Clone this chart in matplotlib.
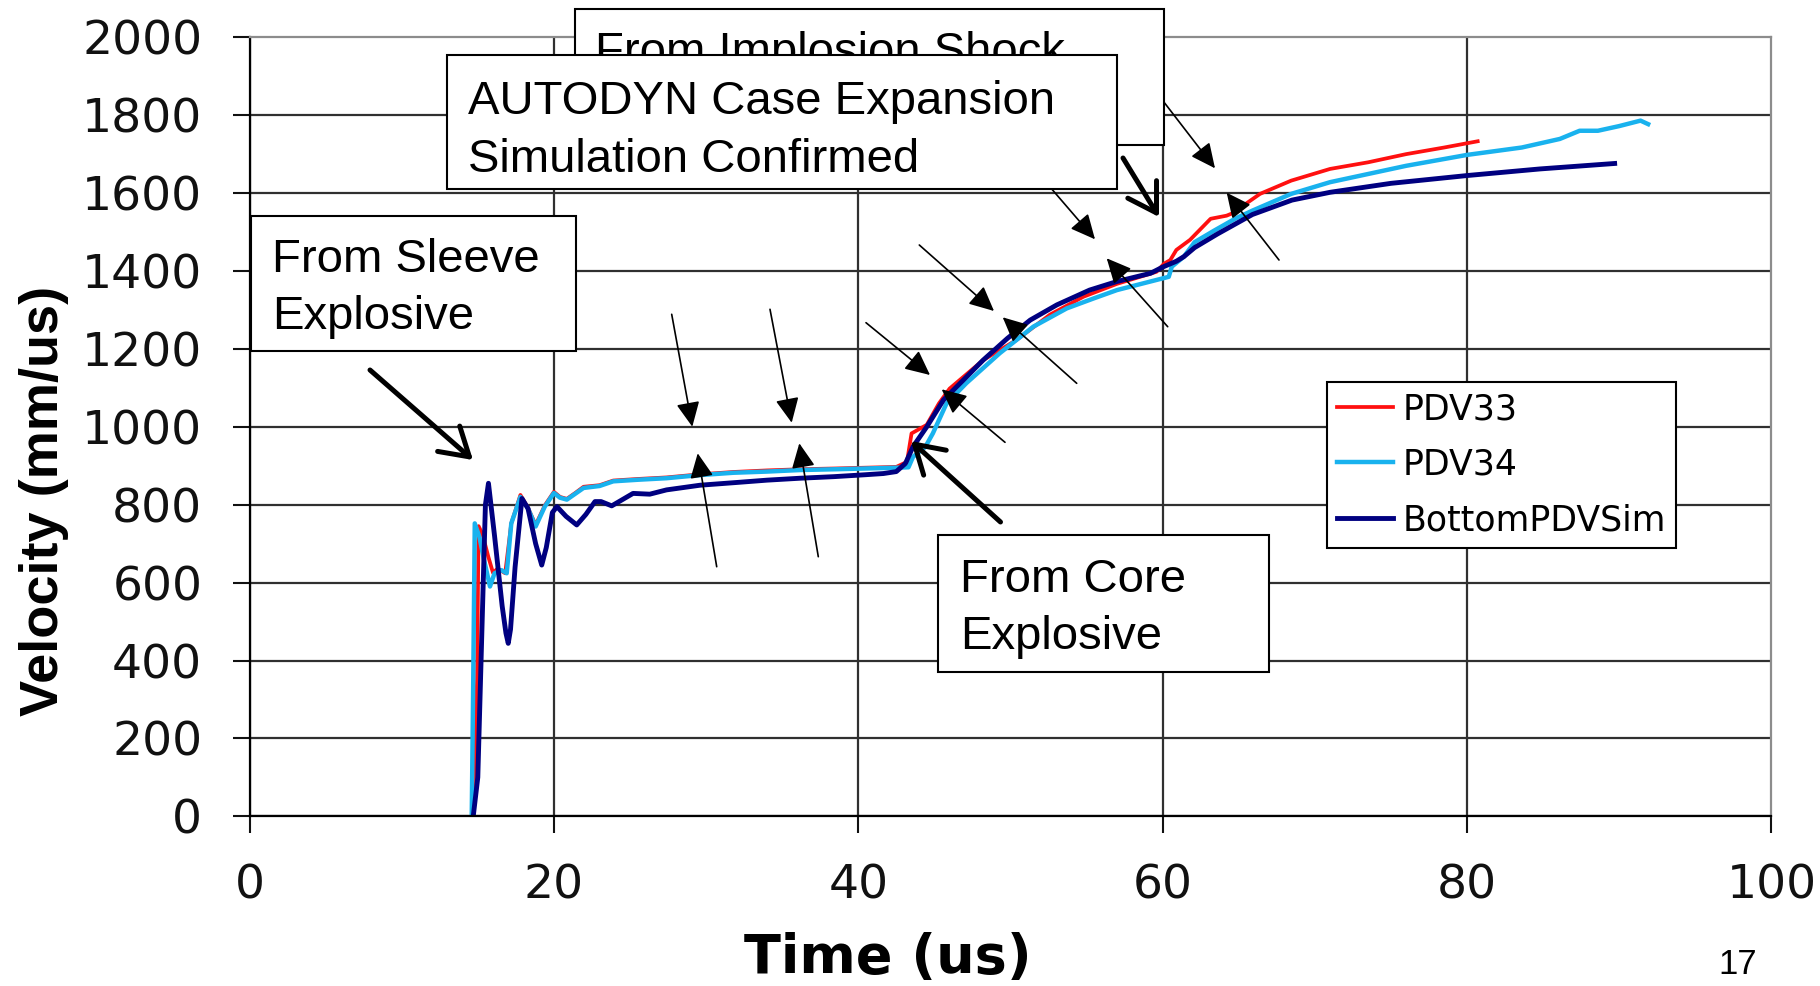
import matplotlib
matplotlib.use('Agg')
from matplotlib import pyplot as plt
from matplotlib.patches import Rectangle, FancyArrowPatch

pdv33_t = [14.7, 14.95, 15.05, 15.3, 15.7, 16.0, 16.3, 16.8, 17.2, 17.8,
           18.3, 18.8, 19.4, 20.0, 20.4, 20.85, 21.4, 21.95, 23.0, 23.9,
           25.5, 27.4, 29.6, 31.8, 34.0, 36.2, 38.5, 40.5, 42.5, 43.2,
           43.5, 44.5, 45.3, 46.0, 48.2, 50.4, 52.6, 54.8, 57.0, 59.6,
           60.1, 60.5, 60.9, 61.8, 63.15, 64.2, 64.7, 65.3, 66.4, 68.45,
           71.0, 73.5, 76.0, 78.5, 80.7]
pdv33_v = [0, 350, 745, 725, 665, 625, 636, 624, 752, 825,
           792, 748, 798, 833, 820, 815, 830, 846, 850, 862,
           866, 870, 878, 884, 888, 891, 893, 895, 897, 910,
           983, 1005, 1060, 1098, 1171, 1223, 1288, 1334, 1367, 1398,
           1419, 1428, 1454, 1480, 1534, 1542, 1550, 1568, 1598, 1632,
           1662, 1679, 1700, 1717, 1733]

pdv34_t = [14.6, 14.7, 14.8, 15.1, 15.4, 15.8, 16.1, 16.55, 16.9, 17.2,
           17.8, 18.3, 18.8, 19.4, 20.0, 20.4, 20.85, 21.4, 21.95, 23.0,
           23.9, 25.5, 27.4, 29.6, 31.8, 34.0, 36.2, 38.5, 40.5, 42.5,
           43.3, 43.6, 44.4, 44.9, 45.8, 47.1, 49.3, 51.5, 53.7, 55.5,
           57.0, 58.5, 59.6, 60.4, 60.6, 61.4, 62.1, 63.4, 64.8, 65.9,
           68.45, 71.0, 73.5, 76.0, 80.0, 83.6, 86.1, 87.4, 88.6, 90.0,
           91.4, 91.9]
pdv34_v = [0, 350, 752, 718, 660, 590, 624, 632, 624, 752,
           820, 790, 744, 795, 830, 818, 813, 828, 843, 848,
           860, 864, 868, 876, 882, 885, 889, 891, 893, 895,
           896, 923, 948, 983, 1060, 1112, 1189, 1257, 1304, 1330,
           1351, 1366, 1377, 1385, 1411, 1437, 1474, 1504, 1535, 1555,
           1598, 1628, 1649, 1670, 1698, 1717, 1739, 1760, 1760, 1772,
           1786, 1777]

sim_t = [14.7, 15.0, 15.25, 15.5, 15.7, 16.1, 16.6, 16.85, 17.0, 17.15,
         17.45, 17.9, 18.3, 18.8, 19.2, 19.5, 19.9, 20.2, 20.8, 21.5,
         22.1, 22.7, 23.1, 23.8, 25.2, 26.3, 27.4, 29.6, 32.0, 34.0,
         36.2, 38.4, 40.5, 41.65, 42.5, 43.1, 43.6, 44.5, 45.6, 46.7,
         48.2, 49.8, 51.3, 53.05, 55.2, 57.0, 59.2, 60.0, 60.9, 61.4,
         62.1, 63.6, 65.9, 68.5, 71.0, 75.0, 80.0, 84.8, 89.7]
sim_v = [0, 100, 450, 800, 855, 720, 540, 470, 444, 480,
         640, 816, 790, 700, 645, 690, 780, 795, 770, 748,
         775, 808, 808, 797, 829, 827, 838, 850, 857, 863,
         868, 872, 877, 880, 885, 906, 949, 1000, 1069, 1112,
         1171, 1227, 1274, 1313, 1351, 1373, 1394, 1410, 1425, 1437,
         1460, 1495, 1545, 1582, 1602, 1625, 1645, 1662, 1676]

x_ticks = [0, 20, 40, 60, 80, 100]
y_ticks = [0, 200, 400, 600, 800, 1000, 1200, 1400, 1600, 1800, 2000]

W, H = 1820, 986


def fxy(px, py):
    # picture pixel (origin top-left) -> figure fraction
    return px / W, 1 - py / H


fig = plt.figure(figsize=(W / 100, H / 100), dpi=100)
ax = fig.add_axes([0.1371, 0.1721, 0.8362, 0.7901])

ax.plot(pdv33_t, pdv33_v, color='#FF1010', lw=2.7, label='PDV33')
ax.plot(pdv34_t, pdv34_v, color='#19B2EE', lw=3.2, label='PDV34')
ax.plot(sim_t, sim_v, color='#000080', lw=3.5, label='BottomPDVSim')

ax.set_xlim(0, 100)
ax.set_ylim(0, 2000)
ax.set_xticks(x_ticks)
ax.set_yticks(y_ticks)
ax.tick_params(direction='out', length=12, width=1.5, pad=22, labelsize=34,
               colors='#111111')
ax.grid(True, color='#303030', lw=1.6)
# the plot-area border takes the place of the last grid lines
ax.xaxis.get_major_ticks()[-1].gridline.set_visible(False)
ax.yaxis.get_major_ticks()[-1].gridline.set_visible(False)
for side in ['left', 'bottom']:
    ax.spines[side].set_color('black')
    ax.spines[side].set_linewidth(1.6)
for side in ['top', 'right']:
    ax.spines[side].set_color('#8C8C8C')
    ax.spines[side].set_linewidth(1.6)

ax.set_xlabel('Time (us)', fontsize=39, fontweight='bold', va='center')
ax.xaxis.set_label_coords(0.4195, -0.1815)
ax.set_ylabel('Velocity (mm/us)', fontsize=39, fontweight='bold',
              family='Liberation Sans', va='center')
ax.yaxis.set_label_coords(-0.1351, 0.4047)

leg = ax.legend(loc='upper left', bbox_to_anchor=fxy(1327, 381.7),
                bbox_transform=fig.transFigure, borderaxespad=0,
                fontsize=25, handlelength=1.6, handletextpad=0.27,
                labelspacing=0.62, borderpad=0.3, fancybox=False,
                framealpha=1)
leg.get_frame().set_edgecolor('black')
leg.get_frame().set_linewidth(1.5)


def text_box(left, top, right, bottom, lines, text_left, baselines, z):
    x0, y1 = fxy(left, top)
    x1, y0 = fxy(right, bottom)
    fig.add_artist(Rectangle((x0, y0), x1 - x0, y1 - y0, transform=fig.transFigure,
                             facecolor='white', edgecolor='black', lw=1.5, zorder=z))
    for s, b in zip(lines, baselines):
        tx, ty = fxy(text_left, b)
        fig.text(tx, ty, s, fontsize=34, family='Liberation Sans',
                 ha='left', va='baseline', zorder=z + 0.5)


def arrow(start, tip, thick=False):
    if thick:
        style, lw, ms = '->,head_length=0.9,head_width=0.55', 3.6, 22
    else:
        style, lw, ms = '-|>,head_length=0.8,head_width=0.38', 1.2, 19
    fig.add_artist(FancyArrowPatch(fxy(*start), fxy(*tip), transform=fig.transFigure,
                                   arrowstyle=style, mutation_scale=ms, lw=lw,
                                   color='black', shrinkA=0, shrinkB=0, zorder=3))


# thin arrow pairs marking the shock arrivals
arrow((671.7, 314.3), (692.3, 426.7))
arrow((716.7, 566.7), (697.7, 453.3))
arrow((770, 309.3), (791.7, 422.7))
arrow((818.3, 556.7), (799.3, 443.3))
arrow((866, 322.7), (930, 375))
arrow((1005, 442.3), (941.7, 389.3))
arrow((919.3, 245), (994, 311))
arrow((1076.7, 383.3), (1002.7, 317.3))
arrow((1050, 187), (1095, 239.3))
arrow((1167.7, 326.7), (1106.7, 258.3))
arrow((1160, 97), (1215, 168.3))
arrow((1279, 260), (1226.7, 192.7))

# thick arrows from the call-out boxes
arrow((370, 370), (473, 460), thick=True)
arrow((1000.5, 522), (911, 441), thick=True)
arrow((1123, 158), (1159, 217), thick=True)

text_box(251, 215.7, 575.7, 351, ['From Sleeve', 'Explosive'], 271.7, [271.7, 329], 4)
text_box(937.7, 535, 1269, 671.7, ['From Core', 'Explosive'], 960, [591.7, 649], 4)
text_box(574.5, 9.3, 1164, 145, ['From Implosion Shock'], 595.4, [65.5], 4)
text_box(447, 54.5, 1116.6, 189, ['AUTODYN Case Expansion', 'Simulation Confirmed'],
         467.8, [113.7, 171.8], 6)

fig.text(*fxy(1738, 964), '17', fontsize=25, family='Liberation Sans',
         ha='center', va='center')

fig.savefig('out.png', dpi=100)
